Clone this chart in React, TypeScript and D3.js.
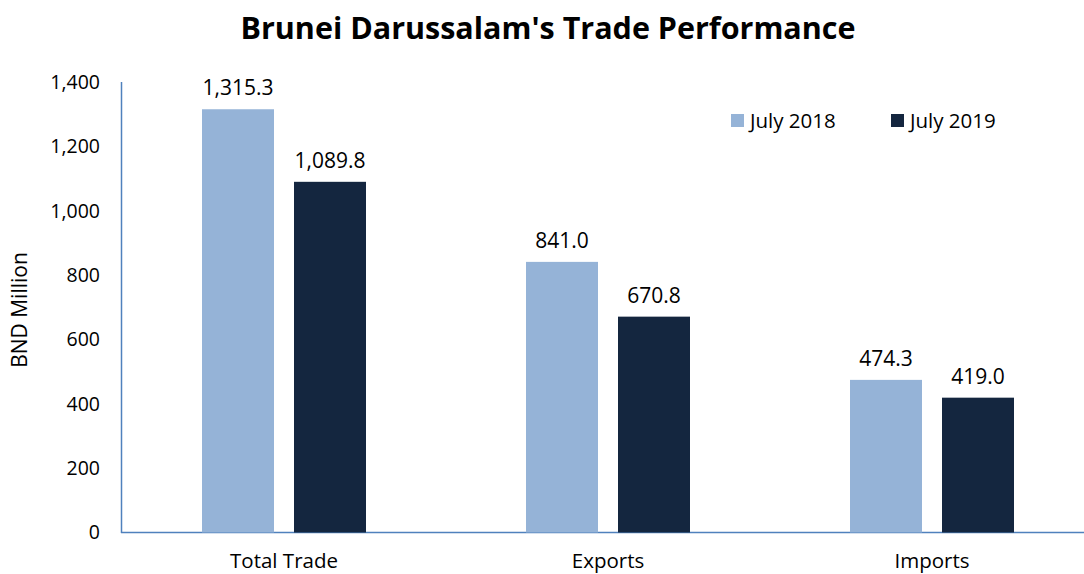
import React from "react";
import * as d3 from "d3";

const categories = ["Total Trade", "Exports", "Imports"];
const seriesNames = ["July 2018", "July 2019"];
const july2018 = [1315.3, 841.0, 474.3];
const july2019 = [1089.8, 670.8, 419.0];
const yTicks = [0, 200, 400, 600, 800, 1000, 1200, 1400];

const colors = ["#95B3D7", "#14263F"];
const FONT = "'Open Sans', 'Noto Sans', sans-serif";

export default function App() {
  const W = 1084, H = 574;
  const x = d3.scaleBand<string>().domain(categories).range([122, 1094]).paddingInner(0).paddingOuter(0);
  const y = d3.scaleLinear().domain([0, 1400]).range([532.5, 82]);
  const barW = 72, gap = 20;
  const series = [july2018, july2019];
  const fmtTick = d3.format(",");
  const fmtVal = d3.format(",.1f");

  return (
    <svg width={W} height={H} style={{ position: "absolute", left: 0, top: 0, background: "#fff" }} fontFamily={FONT}>
      <text x={548} y={39} textAnchor="middle" fontSize={30.5} fontWeight="bold" fill="#000">
        Brunei Darussalam's Trade Performance
      </text>
      {/* axes */}
      <line x1={121.5} x2={121.5} y1={82} y2={533} stroke="#4F81BD" strokeWidth={1.5} />
      <line x1={121} x2={1084} y1={532.5} y2={532.5} stroke="#4F81BD" strokeWidth={1.5} />
      {yTicks.map((t) => (
        <text key={t} x={100} y={y(t)} dy="0.35em" textAnchor="end" fontSize={19.5} fill="#000">
          {fmtTick(t)}
        </text>
      ))}
      <text transform={`translate(27,310) rotate(-90)`} textAnchor="middle" fontSize={21} fill="#000">
        BND Million
      </text>
      {categories.map((c, i) => {
        const cx = (x(c) as number) + x.bandwidth() / 2;
        return (
          <g key={c}>
            {series.map((s, j) => {
              const bx = j === 0 ? cx - gap / 2 - barW : cx + gap / 2;
              return (
                <g key={j}>
                  <rect x={bx} y={y(s[i])} width={barW} height={y(0) - y(s[i])} fill={colors[j]} />
                  <text x={bx + barW / 2} y={y(s[i]) - 14} textAnchor="middle" fontSize={21} fill="#000">
                    {fmtVal(s[i])}
                  </text>
                </g>
              );
            })}
            <text x={cx} y={568} textAnchor="middle" fontSize={20.5} fill="#000">
              {c}
            </text>
          </g>
        );
      })}
      {/* legend */}
      {seriesNames.map((n, j) => {
        const lx = j === 0 ? 731 : 891;
        return (
          <g key={n}>
            <rect x={lx} y={114} width={13} height={13} fill={colors[j]} />
            <text x={lx + 19} y={121} dy="0.35em" fontSize={20.5} fill="#000">
              {n}
            </text>
          </g>
        );
      })}
    </svg>
  );
}
